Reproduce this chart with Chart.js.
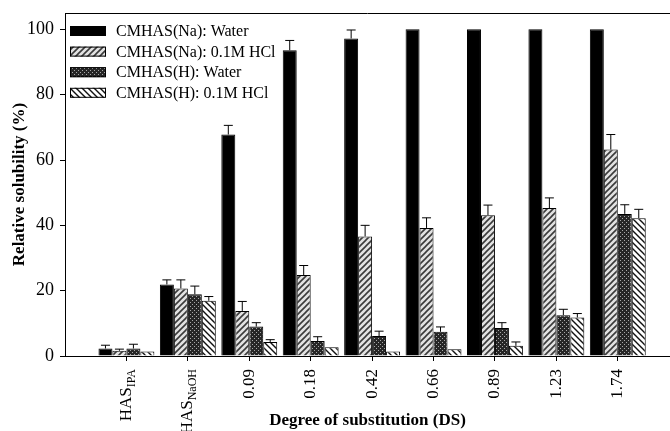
<!DOCTYPE html>
<html>
<head>
<meta charset="utf-8">
<script src="https://cdn.jsdelivr.net/npm/chart.js@4/dist/chart.umd.min.js"></script>
<style>
  html, body { margin: 0; padding: 0; background: #fff; }
</style>
</head>
<body>
<canvas id="c" width="670" height="431"></canvas>
<script>
// categories (part after "_" is drawn as a subscript)
const categories = ['HAS_IPA', 'HAS_NaOH', '0.09', '0.18', '0.42', '0.66', '0.89', '1.23', '1.74'];
const seriesLabels = ['CMHAS(Na): Water', 'CMHAS(Na): 0.1M HCl', 'CMHAS(H): Water', 'CMHAS(H): 0.1M HCl'];

const naWater    = [2.3, 21.9, 67.8, 93.6, 97.2, 100, 100, 100, 100];
const naWaterErr = [1.0, 1.4, 2.8, 3.0, 2.6, 0, 0, 0, 0];
const naHcl      = [1.6, 20.7, 13.8, 24.8, 36.6, 39.2, 43.1, 45.3, 63.2];
const naHclErr   = [0.5, 2.6, 2.9, 2.9, 3.4, 3.1, 3.1, 3.1, 4.6];
const hWater     = [2.3, 18.9, 9.0, 4.6, 6.1, 7.4, 8.6, 12.5, 43.5];
const hWaterErr  = [1.3, 2.5, 1.2, 1.3, 1.5, 1.5, 1.6, 1.8, 2.8];
const hHcl       = [1.4, 16.9, 4.3, 2.7, 1.4, 2.1, 3.1, 11.8, 42.2];
const hHclErr    = [0, 1.3, 0.7, 0, 0, 0, 1.2, 1.2, 2.7];

const yTicks = [0, 20, 40, 60, 80, 100];

const serif = "'Liberation Serif', 'Times New Roman', serif";

// hatch fills
function diagPattern(bg, fg, dir, size, lw) {
  const c = document.createElement('canvas');
  c.width = size; c.height = size;
  const g = c.getContext('2d');
  g.fillStyle = bg;
  g.fillRect(0, 0, size, size);
  g.strokeStyle = fg;
  g.lineWidth = lw;
  g.beginPath();
  if (dir === '/') {
    g.moveTo(-1, size + 1); g.lineTo(size + 1, -1);
    g.moveTo(-1, 1); g.lineTo(1, -1);
    g.moveTo(size - 1, size + 1); g.lineTo(size + 1, size - 1);
  } else {
    g.moveTo(-1, -1); g.lineTo(size + 1, size + 1);
    g.moveTo(-1, size - 1); g.lineTo(1, size + 1);
    g.moveTo(size - 1, -1); g.lineTo(size + 1, 1);
  }
  g.stroke();
  return g.createPattern(c, 'repeat');
}
function dotPattern() {
  const c = document.createElement('canvas');
  c.width = 4; c.height = 4;
  const g = c.getContext('2d');
  g.fillStyle = '#262626';
  g.fillRect(0, 0, 4, 4);
  g.fillStyle = '#a8a8a8';
  g.fillRect(0, 0, 1, 1);
  g.fillRect(2, 2, 1, 1);
  return g.createPattern(c, 'repeat');
}

const fills = [
  '#000000',
  diagPattern('#e2e2e2', '#3a3a3a', '/', 6, 1.6),
  dotPattern(),
  diagPattern('#ffffff', '#111111', '\\', 6, 1.4)
];

const seriesValues = [naWater, naHcl, hWater, hHcl];
const seriesErrors = [naWaterErr, naHclErr, hWaterErr, hHclErr];

const datasets = seriesValues.map((vals, k) => ({
  label: seriesLabels[k],
  data: vals.map((v, i) => ({ x: i, y: v })),
  errors: seriesErrors[k],
  backgroundColor: fills[k],
  borderColor: '#000',
  borderWidth: 1,
  categoryPercentage: 0.91,
  barPercentage: 1.0
}));

const extras = {
  id: 'extras',
  afterDatasetsDraw(chart) {
    const ctx = chart.ctx;
    const ys = chart.scales.y;
    ctx.save();
    ctx.strokeStyle = '#000';
    ctx.lineWidth = 1;
    chart.data.datasets.forEach((ds, k) => {
      const meta = chart.getDatasetMeta(k);
      meta.data.forEach((bar, i) => {
        const e = ds.errors[i];
        if (!e) return;
        const top = ys.getPixelForValue(ds.data[i].y + e);
        ctx.beginPath();
        ctx.moveTo(bar.x, bar.y);
        ctx.lineTo(bar.x, top);
        ctx.moveTo(bar.x - 4.5, top);
        ctx.lineTo(bar.x + 4.5, top);
        ctx.stroke();
      });
    });
    ctx.restore();
  },
  afterDraw(chart) {
    const ctx = chart.ctx;
    const a = chart.chartArea;
    const xs = chart.scales.x;
    ctx.save();
    // top frame line
    ctx.strokeStyle = '#000';
    ctx.lineWidth = 1;
    ctx.beginPath();
    ctx.moveTo(a.left, a.top + 0.5);
    ctx.lineTo(a.right, a.top + 0.5);
    ctx.stroke();

    // rotated category labels with subscripts
    ctx.fillStyle = '#000';
    ctx.textBaseline = 'middle';
    ctx.textAlign = 'left';
    categories.forEach((lab, i) => {
      const parts = lab.split('_');
      const x = xs.getPixelForValue(i);
      ctx.save();
      ctx.translate(x, a.bottom + 13);
      ctx.rotate(-Math.PI / 2);
      ctx.font = '17px ' + serif;
      const wMain = ctx.measureText(parts[0]).width;
      let wSub = 0;
      if (parts[1]) {
        ctx.font = '12px ' + serif;
        wSub = ctx.measureText(parts[1]).width;
      }
      const start = -(wMain + wSub);
      ctx.font = '17px ' + serif;
      ctx.fillText(parts[0], start, 0);
      if (parts[1]) {
        ctx.font = '12px ' + serif;
        ctx.fillText(parts[1], start + wMain, 5);
      }
      ctx.restore();
    });

    // legend inside the plot
    ctx.font = '16px ' + serif;
    ctx.textBaseline = 'middle';
    chart.data.datasets.forEach((ds, k) => {
      const cy = a.top + 18 + k * 20.6;
      const bx = a.left + 5;
      ctx.fillStyle = ds.backgroundColor;
      ctx.fillRect(bx, cy - 5, 36, 10);
      ctx.strokeStyle = '#000';
      ctx.strokeRect(bx + 0.5, cy - 4.5, 35, 9);
      ctx.fillStyle = '#000';
      ctx.fillText(ds.label, bx + 46, cy + 1);
    });
    ctx.restore();
  }
};

new Chart(document.getElementById('c'), {
  type: 'bar',
  data: { datasets },
  options: {
    responsive: false,
    animation: false,
    layout: { padding: { top: 13, right: 0, left: 0, bottom: 0 } },
    plugins: { legend: { display: false }, tooltip: { enabled: false } },
    scales: {
      x: {
        type: 'linear',
        min: -1,
        max: 8.85,
        offset: false,
        grid: { offset: false, drawOnChartArea: false, drawTicks: true, tickLength: 5, color: '#000' },
        border: { color: '#000', width: 1 },
        ticks: { stepSize: 1, includeBounds: false, callback: () => '' },
        afterBuildTicks: s => {
          s.ticks = s.ticks.filter(t => Number.isInteger(t.value) && t.value >= 0 && t.value < categories.length);
        },
        afterFit: s => { s.height = 75; s.paddingLeft = 0; s.paddingRight = 0; },
        title: {
          display: true,
          text: 'Degree of substitution (DS)',
          color: '#000',
          font: { family: serif, size: 17, weight: 'bold' },
          padding: { top: 0, bottom: 0 }
        }
      },
      y: {
        min: 0,
        max: 105,
        afterBuildTicks: s => { s.ticks = yTicks.map(v => ({ value: v })); },
        grid: { drawOnChartArea: false, drawTicks: true, tickLength: 5, color: '#000' },
        border: { color: '#000', width: 1 },
        ticks: { color: '#000', padding: 6, font: { family: serif, size: 18 } },
        afterFit: s => { s.width = 65; s.paddingTop = 0; s.paddingBottom = 0; },
        title: {
          display: true,
          text: 'Relative solubility (%)',
          color: '#000',
          font: { family: serif, size: 17, weight: 'bold' },
          padding: { top: 9, bottom: 0 }
        }
      }
    }
  },
  plugins: [extras]
});
</script>
</body>
</html>
